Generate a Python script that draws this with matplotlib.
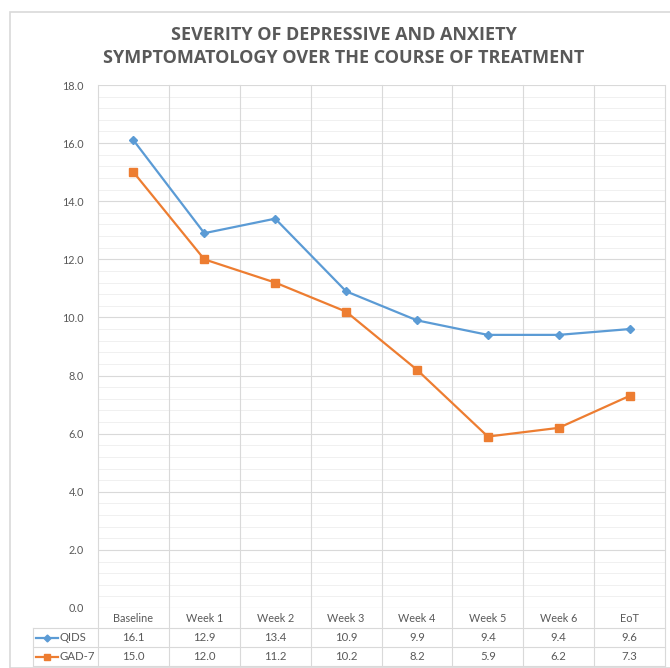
import matplotlib.pyplot as plt
import matplotlib.patches as patches
import numpy as np

categories = ["Baseline", "Week 1", "Week 2", "Week 3", "Week 4", "Week 5", "Week 6", "EoT"]
qids = [16.1, 12.9, 13.4, 10.9, 9.9, 9.4, 9.4, 9.6]
gad7 = [15.0, 12.0, 11.2, 10.2, 8.2, 5.9, 6.2, 7.3]
series_names = ["QIDS", "GAD-7"]

blue = "#5B9BD5"
orange = "#ED7D31"
txt = "#595959"
grid_c = "#D9D9D9"

plt.rcParams['font.family'] = ['Lato', 'DejaVu Sans']

fig = plt.figure(figsize=(6.7, 6.68), dpi=100)
fig.patches.append(patches.Rectangle((10 / 670, 0), 1, 1 - 12 / 668, transform=fig.transFigure,
                                     fill=False, edgecolor=grid_c, linewidth=1.2))

ax = fig.add_axes([98 / 670, 1 - 608 / 668, (665 - 98) / 670, (608 - 85) / 668])
x = np.arange(len(categories))

ax.plot(x, qids, color=blue, marker="D", markersize=4, linewidth=1.6, zorder=3)
ax.plot(x, gad7, color=orange, marker="s", markersize=5.5, linewidth=1.6, zorder=3)

ax.set_xlim(-0.5, len(categories) - 0.5)
ax.set_ylim(0, 18)
ax.set_yticks(np.arange(0, 18.1, 2))
ax.set_yticks(np.arange(0, 18.1, 0.4), minor=True)
ax.set_yticklabels([f"{v:.1f}" for v in np.arange(0, 18.1, 2)], fontsize=7.8, color=txt)
ax.tick_params(axis="y", which="both", length=0, pad=10)
ax.set_xticks([])
ax.grid(axis="y", which="major", color=grid_c, linewidth=0.8)
ax.grid(axis="y", which="minor", color="#F0F0F0", linewidth=0.7)
for s in ax.spines.values():
    s.set_visible(False)
ax.axhline(0, color=grid_c, linewidth=0.8)
ax.set_axisbelow(True)

# data table below the plot
tr = ax.get_xaxis_transform()
ph = 608 - 85
def ay(ypix):
    return (608 - ypix) / ph

x_left = -0.5 - (98 - 33) / 70.875
row_lines = [628, 647, 666]
for i in range(len(categories) + 1):
    ax.plot([i - 0.5, i - 0.5], [1, ay(666)], color=grid_c, linewidth=0.8,
            transform=tr, clip_on=False, zorder=1)
ax.plot([x_left, x_left], [ay(628), ay(666)], color=grid_c, linewidth=0.8,
        transform=tr, clip_on=False)
for yl in row_lines:
    ax.plot([x_left, len(categories) - 0.5], [ay(yl), ay(yl)], color=grid_c,
            linewidth=0.8, transform=tr, clip_on=False)

for i, c in enumerate(categories):
    ax.text(i, ay(618), c, ha="center", va="center", fontsize=7.8, color=txt,
            transform=tr, clip_on=False)
    ax.text(i, ay(637.5), f"{qids[i]:.1f}", ha="center", va="center", fontsize=8.2,
            color=txt, transform=tr, clip_on=False)
    ax.text(i, ay(656.5), f"{gad7[i]:.1f}", ha="center", va="center", fontsize=8.2,
            color=txt, transform=tr, clip_on=False)

for name, col, mk, ms, yc in [(series_names[0], blue, "D", 3.5, 637.5),
                              (series_names[1], orange, "s", 5, 656.5)]:
    k0 = -0.5 - (98 - 36) / 70.875
    k1 = -0.5 - (98 - 58) / 70.875
    ax.plot([k0, k1], [ay(yc), ay(yc)], color=col, linewidth=1.6, transform=tr, clip_on=False)
    ax.plot([(k0 + k1) / 2], [ay(yc)], color=col, marker=mk, markersize=ms,
            transform=tr, clip_on=False)
    ax.text(k1 + 0.02, ay(yc), name, ha="left", va="center", fontsize=8.2, color=txt,
            transform=tr, clip_on=False)

fig.text(344 / 670, 1 - 46.5 / 668,
         "SEVERITY OF DEPRESSIVE AND ANXIETY\nSYMPTOMATOLOGY OVER THE COURSE OF TREATMENT",
         ha="center", va="center", fontsize=13, fontweight="bold", color=txt,
         family=["Open Sans", "DejaVu Sans"], linespacing=1.38)

fig.savefig("out.png", dpi=100, facecolor="white")
